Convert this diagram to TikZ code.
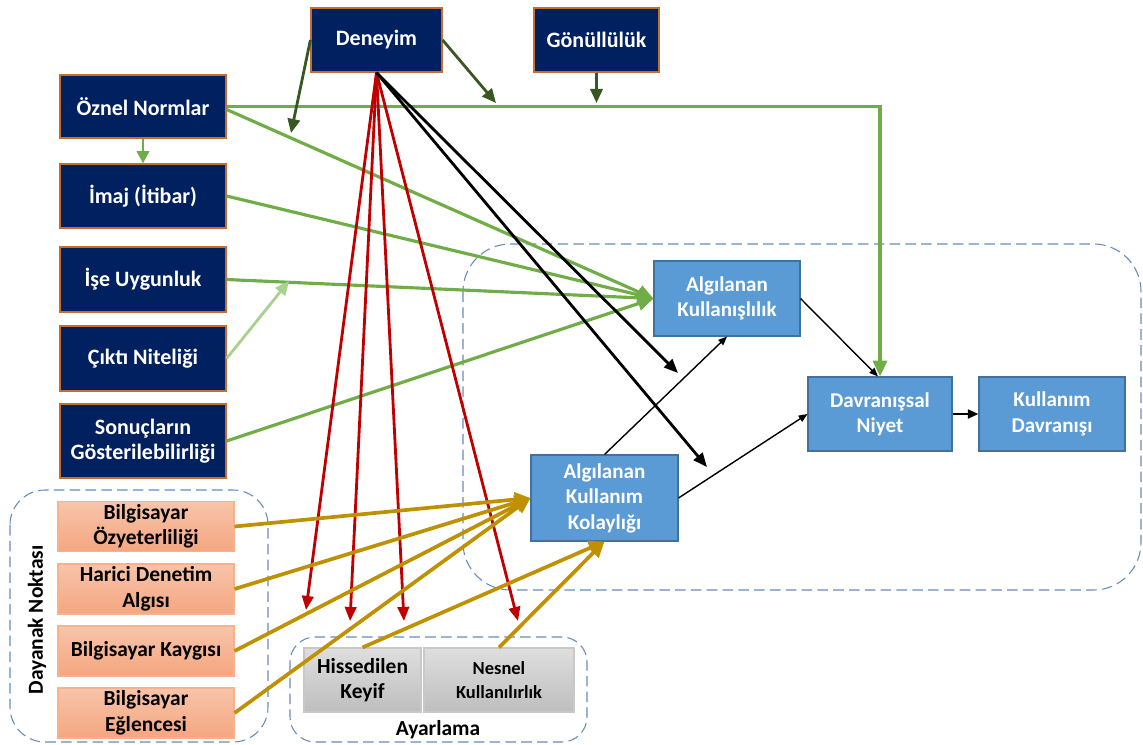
\documentclass[tikz,border=0pt]{standalone}
\usepackage{fontspec}
\setmainfont{Carlito}
\usetikzlibrary{arrows.meta,calc}

\definecolor{navy}{RGB}{0,32,96}
\definecolor{navyedge}{RGB}{197,110,50}
\definecolor{tamblue}{RGB}{91,155,213}
\definecolor{tamedge}{RGB}{65,113,156}
\definecolor{peachtop}{RGB}{248,196,170}
\definecolor{peachbot}{RGB}{244,166,128}
\definecolor{peachedge}{RGB}{246,178,140}
\definecolor{greytop}{RGB}{222,222,222}
\definecolor{greybot}{RGB}{190,190,190}
\definecolor{greyedge}{RGB}{200,200,200}
\definecolor{lgreen}{RGB}{112,173,71}
\definecolor{pgreen}{RGB}{169,209,142}
\definecolor{dgreen}{RGB}{56,87,35}
\definecolor{dred}{RGB}{192,0,0}
\definecolor{gold}{RGB}{191,144,0}
\definecolor{dashblue}{RGB}{100,140,185}

\tikzset{
  navybox/.style={draw=navyedge, fill=navy, text=white, line width=0.7pt,
    font=\bfseries\fontsize{12.5}{14.5}\selectfont, align=center, inner sep=0pt},
  bluebox/.style={draw=tamedge, fill=tamblue, text=white, line width=0.6pt,
    font=\bfseries\fontsize{12}{14.5}\selectfont, align=center, inner sep=0pt},
  peachbox/.style={draw=peachedge, top color=peachtop, bottom color=peachbot, line width=0.6pt,
    font=\bfseries\fontsize{12.2}{14.5}\selectfont, align=center, inner sep=0pt,
    minimum width=3.52cm, minimum height=1.0cm},
  greybox/.style={draw=greyedge, top color=greytop, bottom color=greybot, line width=0.6pt,
    align=center, inner sep=0pt, minimum height=1.28cm},
  region/.style={draw=dashblue, line width=0.6pt, dash pattern=on 6pt off 3pt},
  grline/.style={draw=lgreen, line width=1.8pt, -{Triangle[length=9pt,width=8pt]}},
  dgline/.style={draw=dgreen, line width=1.6pt, -{Triangle[length=8pt,width=7pt]}},
  redline/.style={draw=dred, line width=1.6pt, -{Triangle[length=8pt,width=6.5pt]}},
  goldline/.style={draw=gold, line width=2.1pt, -{Triangle[length=9pt,width=8pt]}},
  blkline/.style={draw=black, line width=1.6pt, -{Triangle[length=8pt,width=6.5pt]}},
  thinline/.style={draw=black, line width=0.8pt, -{Triangle[length=5pt,width=4pt]}},
}

\begin{document}
\begin{tikzpicture}[x=0.02cm, y=-0.02cm]
\useasboundingbox (0,0) rectangle (1143,744);

% dashed groupings
\draw[region, rounded corners=0.95cm] (463,244) rectangle (1141,590);
\draw[region, rounded corners=0.7cm] (10,490) rectangle (268,742);
\draw[region, rounded corners=0.5cm] (290,637) rectangle (587,742);

% external variables
\node[navybox, minimum width=2.62cm, minimum height=1.28cm] (den) at (376.5,40) {Deneyim};
\node[navybox, minimum width=2.5cm, minimum height=1.28cm] (gon) at (596.5,40) {Gönüllülük};
\node[navybox, minimum width=3.32cm, minimum height=1.26cm] (oz) at (143,106.5) {Öznel Normlar};
\node[navybox, minimum width=3.32cm, minimum height=1.28cm] (im) at (143,196) {İmaj (İtibar)};
\node[navybox, minimum width=3.32cm, minimum height=1.3cm] (ise) at (143,279.5) {İşe Uygunluk};
\node[navybox, minimum width=3.32cm, minimum height=1.3cm] (cik) at (143,358.5) {Çıktı Niteliği};
\node[navybox, minimum width=3.32cm, minimum height=1.48cm] (son) at (143,441) {Sonuçların\\Gösterilebilirliği};

% core model
\node[bluebox, minimum width=2.92cm, minimum height=1.5cm] (ak) at (727,298.5) {Algılanan\\Kullanışlılık};
\node[bluebox, minimum width=2.88cm, minimum height=1.48cm] (dn) at (880,414) {Davranışsal\\Niyet};
\node[bluebox, minimum width=2.92cm, minimum height=1.48cm] (kd) at (1052,414) {Kullanım\\Davranışı};
\node[bluebox, minimum width=2.94cm, minimum height=1.72cm] (akk) at (604.5,498) {Algılanan\\Kullanım\\Kolaylığı};

% anchors
\node[peachbox] (ozy) at (146,526.5) {Bilgisayar\\Özyeterliliği};
\node[peachbox] (har) at (146,589) {Harici Denetim\\Algısı};
\node[peachbox] (kay) at (146,651) {Bilgisayar Kaygısı};
\node[peachbox] (egl) at (146,713) {Bilgisayar\\Eğlencesi};
\node[rotate=90, font=\bfseries\fontsize{12.2}{14}\selectfont] (dnk) at (37,620) {Dayanak Noktası};

% adjustments
\node[greybox, minimum width=2.34cm, font=\bfseries\fontsize{12.2}{14.5}\selectfont] (his) at (362.5,680) {Hissedilen\\Keyif};
\node[greybox, minimum width=3.0cm, font=\bfseries\fontsize{10.5}{14}\selectfont] (nes) at (499,680) {Nesnel\\Kullanılırlık};
\node[font=\bfseries\fontsize{12.2}{14}\selectfont] (ayr) at (438,730) {Ayarlama};

% free ends of connectors
\coordinate (cq) at (289,281);
\coordinate (dl) at (291,133);
\coordinate (dr) at (496,103);
\coordinate (gv) at (596.5,103);
\coordinate (r1) at (306,610);
\coordinate (r2) at (350,621);
\coordinate (r3) at (404,621);
\coordinate (r4) at (518,621);
\coordinate (b1) at (678,373);
\coordinate (b2) at (707,467);

% social influence and cognitive instrumental paths
\draw[draw=lgreen, line width=1.8pt, -{Triangle[length=9pt,width=8pt]}] (oz.east) -| (dn.north);
\draw[grline] ($(oz.east)+(0,3)$) -- (ak.west);
\draw[grline] (im.east) -- (ak.west);
\draw[grline] (ise.east) -- (ak.west);
\draw[grline] (son.east) -- (ak.west);
\draw[draw=pgreen, line width=1.6pt, -{Triangle[length=8pt,width=7pt]}] (cik.east) -- (cq);
\draw[draw=lgreen, line width=1.6pt, -{Triangle[length=7pt,width=7pt]}] (oz.south) -- (im.north);

% moderators
\draw[dgline] (den.west) -- (dl);
\draw[dgline] (den.east) -- (dr);
\draw[dgline] (gon.south) -- (gv);

% experience effects
\draw[redline] (den.south) -- (r1);
\draw[redline] (den.south) -- (r2);
\draw[redline] (den.south) -- (r3);
\draw[redline] (den.south) -- (r4);
\draw[blkline] (den.south) -- (b1);
\draw[blkline] (den.south) -- (b2);

% anchors and adjustments to ease of use
\draw[goldline] (ozy.east) -- (akk.west);
\draw[goldline] (har.east) -- (akk.west);
\draw[goldline] (kay.east) -- (akk.west);
\draw[goldline] (egl.east) -- (akk.west);
\draw[goldline] (his.north) -- (akk.south);
\draw[goldline] (nes.north) -- (akk.south);

% core relations
\draw[thinline] (ak.east) -- ($(dn.north)+(-2,0)$);
\draw[thinline] (akk.north) -- (ak.south);
\draw[thinline] (akk.east) -- (dn.west);
\draw[draw=black, line width=1.3pt, -{Triangle[length=6pt,width=5pt]}] (dn.east) -- (kd.west);
\end{tikzpicture}
\end{document}
